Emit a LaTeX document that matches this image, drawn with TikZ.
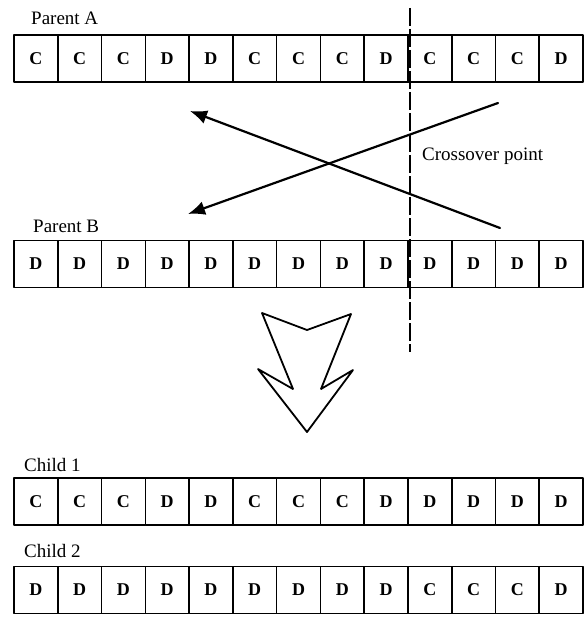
\documentclass[tikz,border=0pt]{standalone}
\usepackage{fontspec}
\setmainfont{Liberation Serif}
\usetikzlibrary{arrows.meta}
\begin{document}
\begin{tikzpicture}[line cap=round,line join=round,x=1pt,y=-1pt,
    gene/.style={draw,line width=1.6pt,minimum width=43.77pt,minimum height=47pt,
      inner sep=0pt,font=\fontsize{18}{18}\selectfont\bfseries},
    tag/.style={anchor=base west,inner sep=0pt,font=\fontsize{19}{19}\selectfont},
    swap/.style={line width=2.2pt,-{Latex[length=17pt,width=14pt]}}]
  \useasboundingbox (0,0) rectangle (584,623);

  % chromosomes
  \foreach \g [count=\i] in {C,C,C,D,D,C,C,C,D,C,C,C,D}
    \node[gene] (A\i) at (14+43.77*\i-21.885,58.5) {\g};
  \foreach \g [count=\i] in {D,D,D,D,D,D,D,D,D,D,D,D,D}
    \node[gene] (B\i) at (14+43.77*\i-21.885,264) {\g};
  \foreach \g [count=\i] in {C,C,C,D,D,C,C,C,D,D,D,D,D}
    \node[gene] (P\i) at (14+43.77*\i-21.885,501.5) {\g};
  \foreach \g [count=\i] in {D,D,D,D,D,D,D,D,D,C,C,C,D}
    \node[gene] (Q\i) at (14+43.77*\i-21.885,590) {\g};

  \node[tag] (pa) at (31,25) {Parent A};
  \node[tag] (pb) at (33,232) {Parent B};
  \node[tag] (c1) at (24,471) {Child 1};
  \node[tag] (c2) at (24,557) {Child 2};
  \node[tag] (xo) at (422,160) {Crossover point};

  % cut line and swap arrows
  \draw (410,8) coordinate (T) (410,352) coordinate (U)
    (500,228) coordinate (S1) (190,111) coordinate (E1)
    (498,103) coordinate (S2) (188,214) coordinate (E2);
  \draw[line width=2pt,dash pattern=on 18pt off 3pt,line cap=butt] (T)--(U);
  \draw[swap] (S1)--(E1);
  \draw[swap] (S2)--(E2);

  \draw[line width=1.8pt] (262,313)--(307,330)--(351,314)--(321,389)--(353,370)
    --(307,432)--(258,369)--(293,389)--cycle;
\end{tikzpicture}
\end{document}
